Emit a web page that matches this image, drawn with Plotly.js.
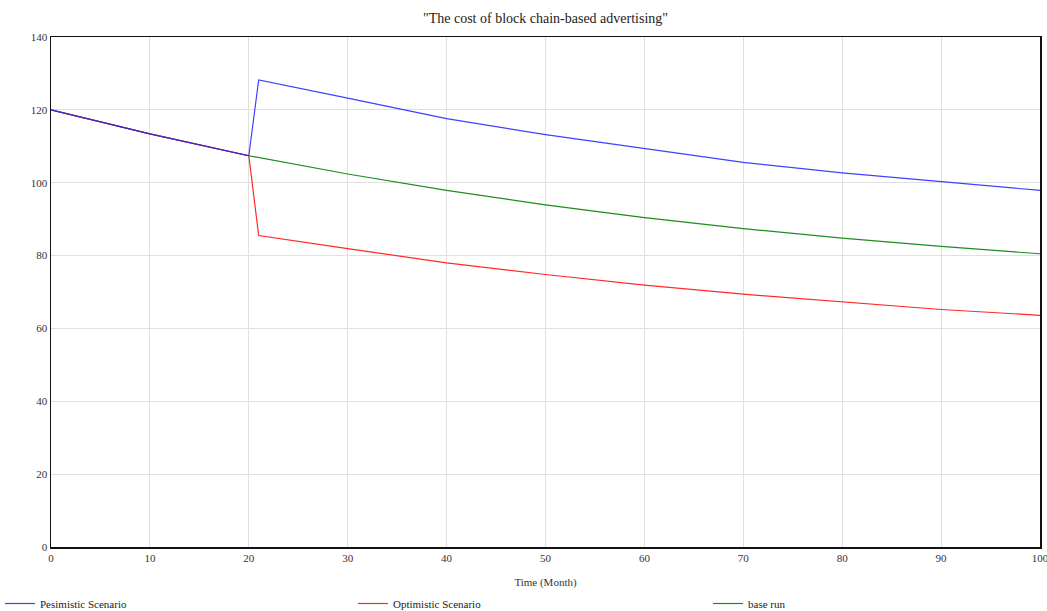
<!DOCTYPE html>
<html>
<head>
<meta charset="utf-8">
<script src="https://cdn.plot.ly/plotly-3.0.1.min.js"></script>
<style>html,body{margin:0;padding:0;background:#fff;}#chart{width:1047px;height:611px;}</style>
</head>
<body>
<div id="chart"></div>
<script>
// Time (Month)
const timeBase = [0, 10, 20, 30, 40, 50, 60, 70, 80, 90, 100];
const baseRun = [120, 113.4, 107.4, 102.4, 97.9, 93.9, 90.4, 87.4, 84.8, 82.5, 80.5];

const timeScen = [0, 10, 20, 21, 30, 40, 50, 60, 70, 80, 90, 100];
const pessimistic = [120, 113.4, 107.4, 128.2, 123.2, 117.6, 113.2, 109.3, 105.6, 102.7, 100.2, 97.9];
const optimistic = [120, 113.4, 107.4, 85.5, 81.9, 78.0, 74.8, 71.9, 69.4, 67.2, 65.2, 63.6];

const seriesNames = ["Pesimistic Scenario", "Optimistic Scenario", "base run"];
const xTicks = [0, 10, 20, 30, 40, 50, 60, 70, 80, 90, 100];
const yTicks = [0, 20, 40, 60, 80, 100, 120, 140];

const serif = "'Liberation Serif', 'Times New Roman', serif";

const traces = [
  {x: timeBase, y: baseRun, name: seriesNames[2], legend: "legend3", mode: "lines", line: {color: "rgb(30,140,30)", width: 1.2}},
  {x: timeScen, y: optimistic, name: seriesNames[1], legend: "legend2", mode: "lines", line: {color: "rgb(255,40,40)", width: 1.2}},
  {x: timeScen, y: pessimistic, name: seriesNames[0], legend: "legend", mode: "lines", line: {color: "rgba(30,30,255,0.85)", width: 1.2}}
];

function legendAt(px) {
  return {
    orientation: "h",
    xref: "container", yref: "container",
    x: px / 1047, xanchor: "left", y: 22 / 611, yanchor: "top",
    font: {family: serif, size: 11, color: "#222"},
    bgcolor: "rgba(0,0,0,0)", borderwidth: 0
  };
}

const layout = {
  width: 1047, height: 611,
  paper_bgcolor: "#fff", plot_bgcolor: "#fff",
  margin: {l: 51, r: 7, t: 37, b: 64},
  font: {family: serif, size: 11, color: "#333"},
  title: {text: "\"The cost of block chain-based advertising\"", font: {family: serif, size: 14, color: "#222"},
          x: 0.521, xanchor: "center", y: 0.97, yanchor: "middle"},
  xaxis: {
    range: [0, 100], tickvals: xTicks, ticktext: xTicks.map(String),
    showgrid: true, gridcolor: "#e0e0e0", gridwidth: 1,
    showline: true, linecolor: "#111", linewidth: 1.5, mirror: true,
    ticks: "", ticklen: 0, zeroline: false, automargin: false,
    ticklabeloverflow: "allow",
    tickfont: {family: serif, size: 11, color: "#333"},
    title: {text: "Time (Month)", font: {family: serif, size: 11, color: "#333"}, standoff: 31}
  },
  yaxis: {
    range: [0, 140], tickvals: yTicks, ticktext: yTicks.map(String),
    showgrid: true, gridcolor: "#e0e0e0", gridwidth: 1,
    showline: true, linecolor: "#111", linewidth: 1.5, mirror: true,
    ticks: "", ticklen: 0, zeroline: false, automargin: false,
    ticklabeloverflow: "allow",
    tickfont: {family: serif, size: 11, color: "#333"}
  },
  showlegend: true,
  legend: legendAt(0),
  legend2: legendAt(353),
  legend3: legendAt(708)
};

Plotly.newPlot("chart", traces, layout, {displayModeBar: false, staticPlot: true});
</script>
</body>
</html>
